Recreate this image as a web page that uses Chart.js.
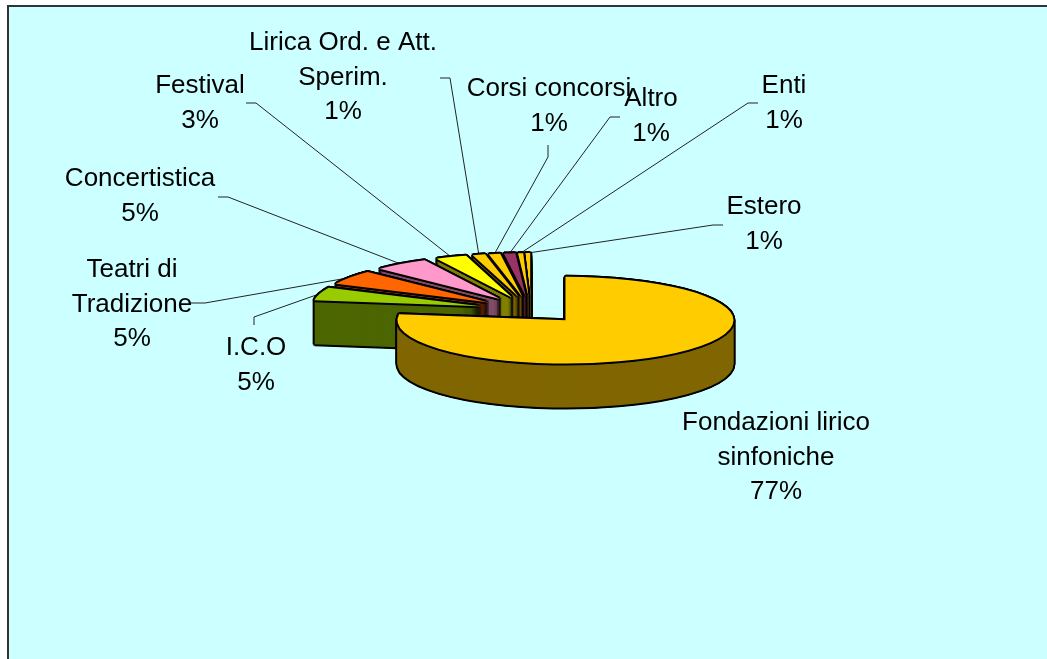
<!DOCTYPE html>
<html>
<head>
<meta charset="utf-8">
<title>Pie</title>
<script src="https://cdn.jsdelivr.net/npm/chart.js@4"></script>
<style>
    html, body { margin: 0; padding: 0; background: #ffffff; overflow: hidden; }
    #frame { position: absolute; left: 7px; top: 5px; width: 1100px; height: 700px; background: #ccffff; border: 2px solid #333333; }
    #pie { position: absolute; left: 0; top: 0; }
</style>
</head>
<body>
<div id="frame"></div>
<canvas id="pie" width="1047" height="659"></canvas>
<script>
// Data (slice sizes estimated, the labels show them rounded)
var categories = [
    ["Fondazioni lirico", "sinfoniche"], ["I.C.O"], ["Teatri di", "Tradizione"], ["Concertistica"], ["Festival"],
    ["Lirica Ord. e Att.", "Sperim."], ["Corsi concorsi"], ["Altro"], ["Enti"], ["Estero"]
];
var percentages = [77.2, 4.8, 5.3, 5.3, 3.0, 1.2, 1.1, 1.1, 0.5, 0.5];
var topColors = ["#ffcc00", "#99cc00", "#ff6600", "#ff99cc", "#ffff00", "#ffcc00", "#ffcc00", "#993366", "#ffcc00", "#ffcc00"];
var wallColors = ["#806600", "#4c6600", "#803300", "#804c66", "#808000", "#806600", "#806600", "#4c1933", "#806600", "#806600"];

// Layout of the text: centre x and first line y, then where the leader line bends and stops
var labelX = [776, 256, 132, 140, 200, 343, 549, 651, 784, 764];
var labelY = [423, 348, 270, 179, 86, 43, 89, 99, 86, 207];
var leaderBend = [null, [254, 317], [205, 303], [228, 197], [256, 103], [450, 78], [548, 157], [610, 117], [748, 103], [713, 225]];
var leaderEnd = [null, [254, 325], [190, 303], [218, 197], [246, 103], [440, 78], [548, 145], [620, 117], [758, 103], [723, 225]];

// Flattened 3D look
var pieX = 531, pieY = 310, squash = 0.258, depth = 44, explode = 52.5, outline = 2;
var stamps = [[-1, 0], [1, 0], [0, -1], [0, 1], [-0.7, -0.7], [0.7, -0.7], [-0.7, 0.7], [0.7, 0.7]];

// Middle of a slice, pushed out from the pie centre
function sliceOrigin(arc) {
    var mid = (arc.startAngle + arc.endAngle) / 2;
    return { mid: mid, x: pieX + Math.cos(mid) * explode, y: pieY + Math.sin(mid) * explode * squash };
}

function stampArc(ctx, arc, color, dx, dy) {
    var origin = sliceOrigin(arc);
    var saved = arc.options;
    arc.options = Object.assign({}, saved, { backgroundColor: color });
    ctx.save();
    ctx.translate(origin.x + dx, origin.y + dy);
    ctx.scale(1, squash);
    ctx.translate(-arc.x, -arc.y);
    arc.draw(ctx);
    ctx.restore();
    arc.options = saved;
}

var pie3d = {
    id: "pie3d",
    beforeDatasetsDraw: function (chart) {
        var ctx = chart.ctx;
        var arcs = chart.getDatasetMeta(0).data;

        // Leader lines go under the slices
        ctx.strokeStyle = "#222222";
        ctx.lineWidth = 1;
        arcs.forEach(function (arc, i) {
            if (!leaderBend[i]) return;
            var origin = sliceOrigin(arc);
            ctx.beginPath();
            ctx.moveTo(origin.x + Math.cos(origin.mid) * arc.outerRadius, origin.y + Math.sin(origin.mid) * arc.outerRadius * squash);
            ctx.lineTo(leaderBend[i][0], leaderBend[i][1]);
            ctx.lineTo(leaderEnd[i][0], leaderEnd[i][1]);
            ctx.stroke();
        });

        // Back slices first, the big one last
        for (var i = arcs.length - 1; i >= 0; i--) {
            var arc = arcs[i];
            var d, s;
            for (d = depth; d >= 0; d -= 1) {
                for (s = 0; s < stamps.length; s++) {
                    stampArc(ctx, arc, "#000000", stamps[s][0] * outline, d + stamps[s][1] * outline);
                }
            }
            for (d = depth; d > 0; d -= 1) {
                stampArc(ctx, arc, wallColors[i], 0, d);
            }
            for (s = 0; s < stamps.length; s++) {
                stampArc(ctx, arc, "#000000", stamps[s][0] * outline, stamps[s][1] * outline);
            }
            stampArc(ctx, arc, topColors[i], 0, 0);
        }
        return false;
    },
    afterDraw: function (chart) {
        var ctx = chart.ctx;
        ctx.fillStyle = "#000000";
        ctx.font = "26px 'Liberation Sans', Arial, sans-serif";
        ctx.textAlign = "center";
        ctx.textBaseline = "middle";
        categories.forEach(function (lines, i) {
            var all = lines.concat([Math.round(percentages[i]) + "%"]);
            all.forEach(function (line, n) {
                ctx.fillText(line, labelX[i], labelY[i] + n * 34.5);
            });
        });
    }
};

new Chart(document.getElementById("pie").getContext("2d"), {
    type: "pie",
    data: {
        labels: categories,
        datasets: [{ data: percentages, backgroundColor: topColors, borderWidth: 0 }]
    },
    options: {
        responsive: false,
        animation: false,
        layout: { padding: { top: 161.5, bottom: 161.5 } },
        plugins: { legend: { display: false }, tooltip: { enabled: false } }
    },
    plugins: [pie3d]
});
</script>
</body>
</html>
